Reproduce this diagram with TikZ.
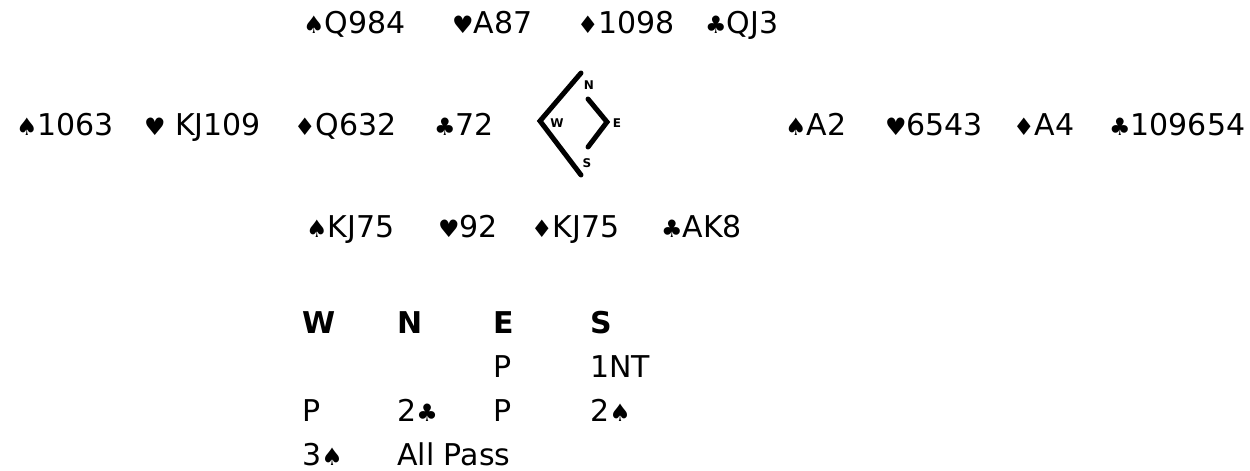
\documentclass[tikz,border=0pt]{standalone}
\usepackage{fontspec}
\setmainfont{DejaVu Sans}
\usetikzlibrary{positioning}

\newcommand{\suitS}{{\fontsize{24}{24}\selectfont ♠}}
\newcommand{\suitH}{{\fontsize{24}{24}\selectfont ♥}}
\newcommand{\suitD}{{\fontsize{24}{24}\selectfont ♦}}
\newcommand{\suitC}{{\fontsize{24}{24}\selectfont ♣}}

\tikzset{
  holding/.style={anchor=base west, inner sep=0pt, font=\fontsize{30}{31}\selectfont},
  seat/.style={holding, font=\fontsize{30}{31}\selectfont\bfseries},
  compass/.style={inner sep=0pt, font=\fontsize{12}{12}\selectfont\bfseries},
  brush/.style={line width=5pt, line cap=round, line join=miter}
}

\begin{document}
\begin{tikzpicture}[x=1pt, y=-1pt]
  \useasboundingbox[fill=white] (0,0) rectangle (1250,471);

  % North
  \node[holding] (nS) at (303,33) {\suitS Q984};
  \node[holding] (nH) at (452,33) {\suitH A87};
  \node[holding] (nD) at (577,33) {\suitD 1098};
  \node[holding] (nC) at (705,33) {\suitC QJ3};

  % West
  \node[holding] (wS) at (16,135) {\suitS 1063};
  \node[holding] (wH) at (144,135) {\suitH\ KJ109};
  \node[holding] (wD) at (294,135) {\suitD Q632};
  \node[holding] (wC) at (434,135) {\suitC 72};

  % East
  \node[holding] (eS) at (785,135) {\suitS A2};
  \node[holding] (eH) at (885,135) {\suitH 6543};
  \node[holding] (eD) at (1013,135) {\suitD A4};
  \node[holding] (eC) at (1109,135) {\suitC 109654};

  % South
  \node[holding] (sS) at (306,237) {\suitS KJ75};
  \node[holding] (sH) at (438,237) {\suitH 92};
  \node[holding] (sD) at (531,237) {\suitD KJ75};
  \node[holding] (sC) at (661,237) {\suitC AK8};

  % compass
  \draw[brush] (581,73) -- (540,121) -- (581,175);
  \draw[brush] (588,99) .. controls (597,110) .. (607,122) .. controls (597,134) .. (588,147);
  \node[compass] (cN) at (589,85) {N};
  \node[compass] (cW) at (557,123) {W};
  \node[compass] (cE) at (617,123) {E};
  \node[compass] (cS) at (587,163) {S};

  % bidding
  \node[seat] (bW) at (302,333) {W};
  \node[seat] (bN) at (397,333) {N};
  \node[seat] (bE) at (493,333) {E};
  \node[seat] (bS) at (590,333) {S};

  \node[holding] (b1E) at (493,377) {P};
  \node[holding] (b1S) at (590,377) {1NT};
  \node[holding] (b2W) at (302,421) {P};
  \node[holding] (b2N) at (397,421) {2\suitC};
  \node[holding] (b2E) at (493,421) {P};
  \node[holding] (b2S) at (590,421) {2\suitS};
  \node[holding] (b3W) at (302,465) {3\suitS};
  \node[holding] (b3N) at (397,465) {All Pass};
\end{tikzpicture}
\end{document}
